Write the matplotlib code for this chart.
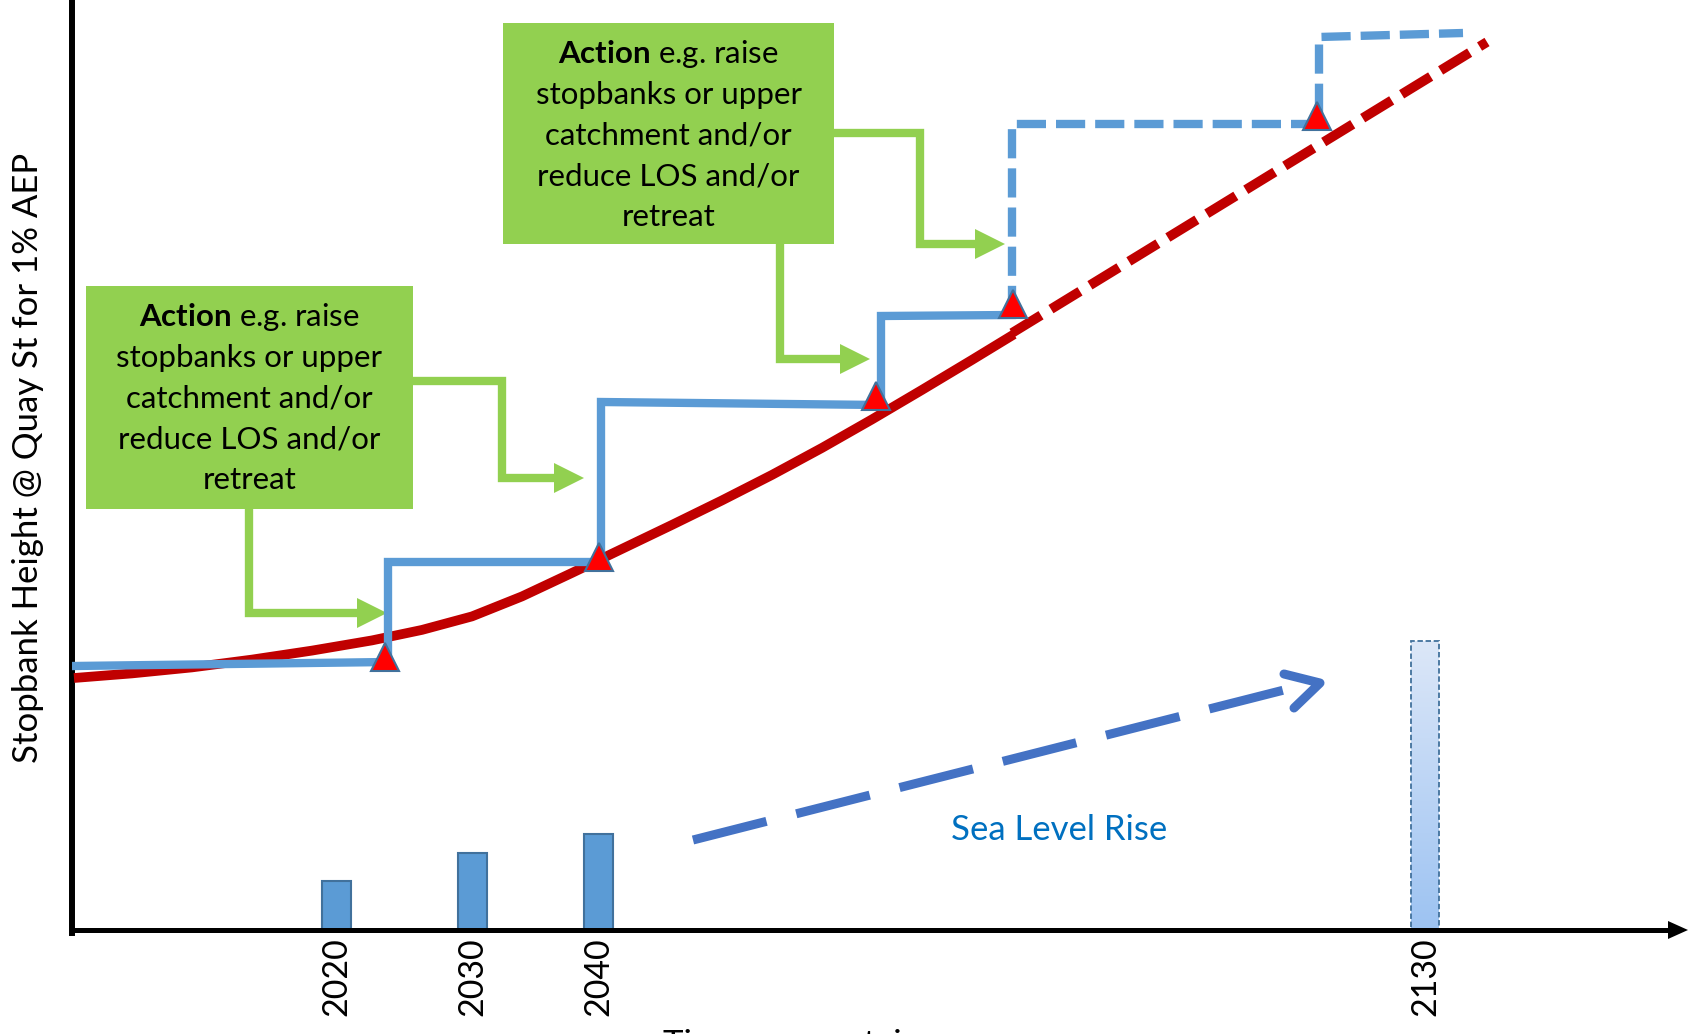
import numpy as np
import matplotlib
matplotlib.use('Agg')
import matplotlib.pyplot as plt
from matplotlib.patches import Rectangle, Polygon

plt.rcParams['font.family'] = ['Lato', 'DejaVu Sans']
plt.rcParams['mathtext.fontset'] = 'custom'
plt.rcParams['mathtext.rm'] = 'Lato'
plt.rcParams['mathtext.bf'] = 'Lato:bold'

# schematic units: x = time along the axis, y = stopbank height (no scale)
years = ['2020', '2030', '2040', '2130']
year_x = [264, 400, 526, 1353]
slr_height = [49, 77, 96, 289]

# flood level needed for 1% AEP (red)
flood_x = [2, 60, 120, 180, 240, 300, 350, 400, 450, 500, 550, 600, 650, 700, 750, 800, 850, 900, 942]
flood_y = [252, 256.6, 262.6, 270.4, 279.4, 289.6, 300.1, 313.6, 333.6, 357.1, 381.1,
           405.1, 429.6, 455.1, 482.1, 510.6, 540.1, 570.1, 595.7]
flood_future_x = [940, 1415]
flood_future_y = [597, 888]

# stopbank height (blue steps)
bank_x = [2, 316, 316, 529, 529, 809, 809, 940]
bank_y = [264, 268, 368, 368, 528, 525, 614, 615]
bank_future_x = [940, 940, 1247, 1247, 1391]
bank_future_y = [615, 806, 806, 893, 897]

# trigger points
trigger_x = [313, 527, 804, 941, 1245]
trigger_y = [273, 373, 534, 626, 814]

action_lines = [r'$\mathbf{Action}$ e.g. raise', 'stopbanks or upper',
                'catchment and/or', 'reduce LOS and/or', 'retreat']

GREEN = '#92D050'
BLUE = '#5B9BD5'
RED = '#C00000'

fig = plt.figure(figsize=(17.01, 10.34), dpi=100)
ax = fig.add_axes([72 / 1701, 104 / 1034, 1629 / 1701, 930 / 1034])
ax.set_xlim(0, 1629)
ax.set_ylim(0, 930)

# sea level rise bars
ax.bar(year_x[:3], slr_height[:3], width=29, color=BLUE, edgecolor='#41719C', lw=1.5, zorder=2)
x0 = year_x[3] - 14
grad = np.linspace(0, 1, 100).reshape(-1, 1)
cmap = matplotlib.colors.LinearSegmentedColormap.from_list('g', ['#9DC3F2', '#DCE7F8'])
im = ax.imshow(grad, cmap=cmap, origin='lower', extent=[x0, x0 + 28, 0, slr_height[3]], zorder=2)
clip = Rectangle((x0, 0), 28, slr_height[3], transform=ax.transData, facecolor='none')
im.set_clip_path(clip)
ax.add_patch(Rectangle((x0, 0), 28, slr_height[3], facecolor='none', edgecolor='#41719C',
                       lw=1.3, ls=(0, (3, 1.5)), zorder=3))
ax.set_aspect('auto')
ax.set_xlim(0, 1629)
ax.set_ylim(0, 930)

# flood level and stopbank lines
ax.plot(flood_x, flood_y, color=RED, lw=7, solid_capstyle='butt', solid_joinstyle='round', zorder=4)
ax.plot(flood_future_x, flood_future_y, color=RED, lw=7, ls=(0, (3.5, 1.2)), zorder=4)
ax.plot(bank_x, bank_y, color=BLUE, lw=6, solid_joinstyle='miter', zorder=5)
ax.plot(bank_future_x, bank_future_y, color=BLUE, lw=6, ls=(0, (3.5, 1.2)), zorder=5)
ax.plot(trigger_x, trigger_y, ls='none', marker='^', ms=20, color='#FF0000',
        mec='#41719C', mew=1.5, zorder=6)

# action boxes
for bx, by, bw, bh in [(14, 421, 327, 223), (431, 686, 331, 221)]:
    ax.add_patch(Rectangle((bx, by), bw, bh, facecolor=GREEN, edgecolor='none', zorder=3))
    for i, line in enumerate(action_lines):
        ax.text(bx + bw / 2, by + bh - 40 - i * 40.8, line, ha='center', va='baseline',
                fontsize=22.5, color='black', zorder=4)

# green connector arrows
connectors = [
    [(177, 421), (177, 317), (286, 317)],
    [(341, 549), (430, 549), (430, 452), (483, 452)],
    [(708, 686), (708, 571), (769, 571)],
    [(762, 797), (848, 797), (848, 686), (904, 686)],
]
for path in connectors:
    px, py = zip(*path)
    ax.plot(px, py, color=GREEN, lw=6, solid_joinstyle='miter', solid_capstyle='butt', zorder=3)
    ex, ey = path[-1]
    ax.add_patch(Polygon([(ex - 1, ey + 15), (ex + 29, ey), (ex - 1, ey - 15)],
                         closed=True, facecolor=GREEN, edgecolor='none', zorder=3))

# sea level rise arrow
ax.plot([621, 1212], [90, 240], color='#4472C4', lw=6.5, ls=(0, (8.4, 3.4)), zorder=3)
ax.plot([1212, 1248, 1222], [256, 247, 222], color='#4472C4', lw=6.5,
        solid_capstyle='round', solid_joinstyle='round', zorder=3)
ax.text(951 - 72, 930 - 830, 'Sea Level Rise', color='#0070C0', fontsize=25,
        ha='left', va='center')

# axes
for s in ['top', 'right', 'bottom']:
    ax.spines[s].set_visible(False)
ax.spines['left'].set_linewidth(4.3)
ax.spines['left'].set_bounds(-2.5, 930)
ax.plot([-2, 1600], [0, 0], color='black', lw=3.6, solid_capstyle='butt', clip_on=False, zorder=7)
ax.add_patch(Polygon([(1596, 9), (1616, 0), (1596, -9)], closed=True, facecolor='black',
                     edgecolor='none', clip_on=False, zorder=7))
ax.set_yticks([])
ax.set_xticks(year_x, years, rotation=90, fontsize=24.5)
ax.tick_params(axis='x', length=0, pad=5)

fig.text(28 / 1701, 1 - 458 / 1034, 'Stopbank Height @ Quay St for 1% AEP', rotation=90,
         ha='center', va='center', fontsize=25)
fig.text(663 / 1701, 1 - 1029 / 1034, 'Time \u2013 uncertain', ha='left', va='top', fontsize=25)

fig.savefig('out.png', dpi=100)
